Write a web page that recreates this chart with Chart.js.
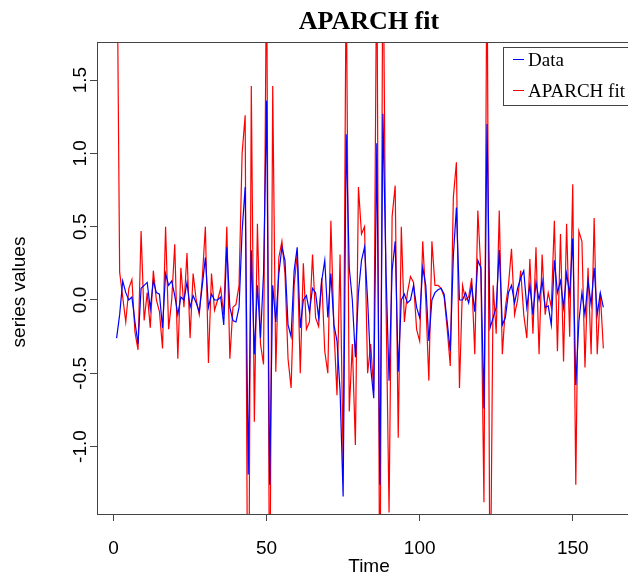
<!DOCTYPE html>
<html>
<head>
<meta charset="utf-8">
<script src="https://cdn.jsdelivr.net/npm/chart.js@4.4.0/dist/chart.umd.min.js"></script>
<style>
  html, body { margin: 0; padding: 0; background: #fff; overflow: hidden; }
  #wrap { width: 660px; height: 579px; }
</style>
</head>
<body>
<div id="wrap"><canvas id="aparch_chart" width="660" height="579"></canvas></div>
<script>
// time index of the series
const time_index = Array.from({ length: 160 }, (_, i) => i + 1);

// observed series ("Data")
const data_values = [
  -0.26, -0.10, 0.13, 0.05, 0.00, 0.02, -0.15, -0.30, 0.08, 0.10,
  0.12, -0.06, 0.13, 0.05, 0.04, -0.19, 0.18, 0.10, 0.13, 0.03,
  -0.10, 0.02, 0.00, 0.12, -0.05, 0.03, -0.02, -0.08, 0.10, 0.29,
  -0.05, 0.04, 0.00, 0.00, 0.02, -0.17, 0.36, -0.05, -0.14, -0.15,
  -0.05, 0.47, 0.77, -1.19, 0.34, -0.37, 0.10, -0.26, 0.18, 1.36,
  -1.26, 0.10, -0.15, 0.18, 0.36, 0.27, -0.17, -0.25, 0.20, 0.36,
  -0.19, 0.00, 0.03, -0.08, 0.08, 0.05, -0.12, 0.13, 0.27, -0.12,
  0.18, -0.17, -0.28, -0.62, -1.34, 1.13, 0.22, 0.00, -0.39, 0.05,
  0.27, 0.36, 0.00, -0.46, -0.67, 1.07, -1.26, 1.27, 0.20, -0.55,
  0.20, 0.40, -0.49, 0.00, 0.04, -0.02, 0.00, 0.10, -0.05, -0.12,
  0.22, 0.10, -0.28, 0.00, 0.05, 0.07, 0.08, 0.04, -0.15, -0.35,
  0.30, 0.63, 0.00, 0.00, 0.05, -0.02, 0.10, -0.08, 0.27, 0.22,
  -0.74, 1.20, -0.19, -0.12, -0.05, 0.34, -0.17, -0.12, 0.05, 0.10,
  -0.02, 0.08, 0.15, 0.20, -0.05, 0.10, -0.10, 0.12, 0.00, 0.13,
  -0.05, -0.04, -0.17, 0.27, 0.05, 0.13, -0.05, 0.18, 0.04, 0.42,
  -0.58, -0.15, 0.05, -0.10, 0.13, -0.03, 0.22, -0.10, 0.05, -0.05
];

// fitted series ("APARCH fit")
const fit_values = [
  2.80, 0.19, 0.02, -0.15, 0.08, 0.14, -0.22, -0.34, 0.47, -0.14,
  0.05, -0.19, 0.20, 0.00, -0.08, -0.33, 0.50, -0.20, 0.00, 0.38,
  -0.40, 0.22, -0.05, 0.32, -0.26, 0.18, 0.00, -0.10, 0.15, 0.50,
  -0.43, 0.18, -0.07, 0.00, 0.08, -0.10, 0.50, -0.40, -0.05, -0.03,
  0.10, 1.00, 1.26, -3.00, 1.46, -0.83, 0.52, -0.30, -0.44, 2.40,
  -2.40, 1.46, -0.49, 0.29, 0.40, 0.18, -0.40, -0.60, 0.10, 0.32,
  -0.50, 0.25, -0.20, -0.15, 0.31, -0.12, -0.18, 0.15, -0.35, -0.50,
  0.54, -0.20, -0.65, 0.31, -1.13, 2.30, -0.76, -0.30, -0.99, 0.77,
  0.45, 0.50, -0.50, -0.30, -0.62, 2.50, -2.40, 2.60, 0.00, -1.45,
  0.57, 0.78, -0.94, 0.50, -0.15, 0.05, 0.16, 0.12, -0.20, -0.28,
  0.40, 0.00, -0.55, 0.40, 0.10, 0.10, 0.08, 0.02, -0.20, -0.45,
  0.70, 0.94, -0.60, 0.10, 0.00, 0.02, 0.15, -0.37, 0.61, 0.20,
  -1.38, 2.50, -2.30, 0.10, -0.23, 0.61, -0.37, -0.05, 0.10, 0.35,
  -0.10, 0.00, 0.20, -0.10, -0.26, 0.28, -0.23, 0.36, -0.37, 0.31,
  -0.10, 0.05, -0.05, 0.54, -0.35, 0.45, -0.42, 0.52, -0.25, 0.79,
  -1.26, 0.47, 0.40, -0.46, 0.22, -0.37, 0.56, -0.37, 0.05, -0.33
];

const x_ticks = [0, 50, 100, 150];
const y_ticks = [-1.0, -0.5, 0.0, 0.5, 1.0, 1.5];
const series_names = ["Data", "APARCH fit"];
const series_colors = ["#0000ff", "#ff0000"];

const SANS = "'Liberation Sans', Arial, sans-serif";
const SERIF = "'Liberation Serif', 'Times New Roman', serif";
const AXIS_COLOR = "#444";

function to_points(values) {
  return values.map((v, i) => ({ x: time_index[i], y: v }));
}

// box, rotated y labels, axis label, title and legend in the R style
const r_style_plugin = {
  id: "r_style",
  afterDraw(chart) {
    const ctx = chart.ctx;
    const area = chart.chartArea;
    const y_scale = chart.scales.y;

    ctx.save();
    ctx.strokeStyle = AXIS_COLOR;
    ctx.lineWidth = 1;
    ctx.strokeRect(area.left + 0.5, area.top + 0.5, area.right - area.left, area.bottom - area.top);

    // y tick labels, read upwards like R
    ctx.fillStyle = "#000";
    ctx.font = "19px " + SANS;
    ctx.textAlign = "center";
    ctx.textBaseline = "middle";
    y_ticks.forEach(v => {
      const py = y_scale.getPixelForValue(v);
      ctx.save();
      ctx.translate(81, py);
      ctx.rotate(-Math.PI / 2);
      ctx.fillText(v.toFixed(1), 0, 0);
      ctx.restore();
    });

    // y axis label
    ctx.save();
    ctx.translate(20, 292);
    ctx.rotate(-Math.PI / 2);
    ctx.fillText("series values", 0, 0);
    ctx.restore();

    // title
    ctx.font = "bold 26px " + SERIF;
    ctx.textBaseline = "alphabetic";
    ctx.fillText("APARCH fit", (area.left + area.right) / 2, 29);

    // legend
    const lx = 503, ly = 47;
    ctx.fillStyle = "#fff";
    ctx.fillRect(lx, ly, 150, 58);
    ctx.strokeRect(lx + 0.5, ly + 0.5, 150, 58);
    ctx.font = "19px " + SERIF;
    ctx.textAlign = "left";
    series_names.forEach((name, i) => {
      const row_y = ly + 12 + i * 31;
      ctx.strokeStyle = series_colors[i];
      ctx.beginPath();
      ctx.moveTo(lx + 10, row_y + 0.5);
      ctx.lineTo(lx + 21, row_y + 0.5);
      ctx.stroke();
      ctx.fillStyle = "#000";
      ctx.fillText(name, lx + 25, row_y + 7);
    });
    ctx.restore();
  }
};

new Chart(document.getElementById("aparch_chart").getContext("2d"), {
  type: "line",
  data: {
    datasets: [
      {
        label: series_names[0],
        data: to_points(data_values),
        borderColor: series_colors[0],
        borderWidth: 1.2,
        pointRadius: 0,
        tension: 0,
        clip: 0
      },
      {
        label: series_names[1],
        data: to_points(fit_values),
        borderColor: series_colors[1],
        borderWidth: 1.2,
        pointRadius: 0,
        tension: 0,
        clip: 0
      }
    ]
  },
  options: {
    responsive: false,
    animation: false,
    devicePixelRatio: 1,
    layout: { padding: { top: 42, right: 19, bottom: 0, left: 0 } },
    plugins: {
      legend: { display: false },
      title: { display: false },
      tooltip: { enabled: false }
    },
    scales: {
      x: {
        type: "linear",
        min: -5.4,
        max: 172.3,
        afterBuildTicks: s => { s.ticks = x_ticks.map(v => ({ value: v })); },
        afterFit: s => { s.height = 65; },
        grid: { drawOnChartArea: false, drawTicks: true, tickLength: 7, color: AXIS_COLOR },
        border: { display: false },
        ticks: { color: "#000", font: { family: SANS, size: 19 }, padding: 16, maxRotation: 0 },
        title: { display: true, text: "Time", color: "#000", font: { family: SANS, size: 19 }, padding: { top: 0, bottom: 1 } }
      },
      y: {
        type: "linear",
        min: -1.46,
        max: 1.76,
        afterBuildTicks: s => { s.ticks = y_ticks.map(v => ({ value: v })); },
        afterFit: s => { s.width = 97; },
        grid: { drawOnChartArea: false, drawTicks: true, tickLength: 7, color: AXIS_COLOR },
        border: { display: false },
        ticks: { display: false }
      }
    }
  },
  plugins: [r_style_plugin]
});
</script>
</body>
</html>
